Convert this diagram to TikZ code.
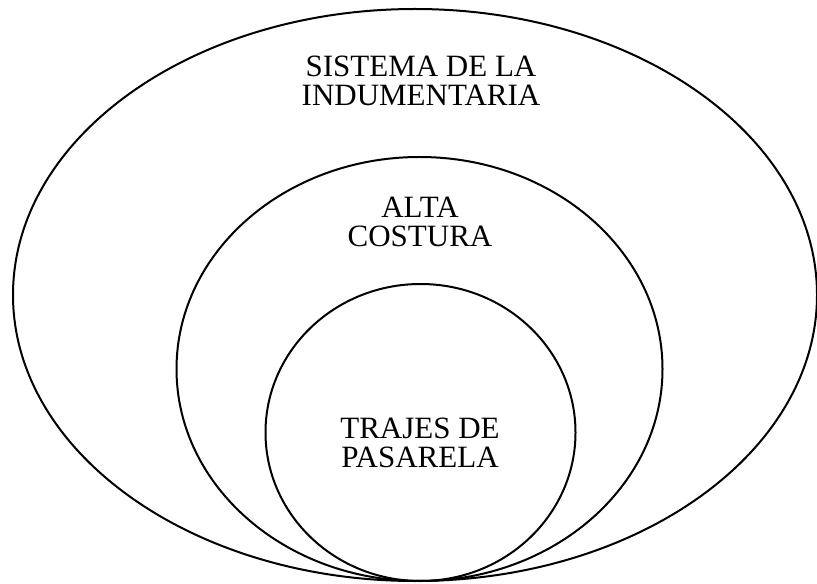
\documentclass[tikz,border=0pt]{standalone}
\usepackage{fontspec}
\setmainfont{Liberation Serif}
\usetikzlibrary{shapes.geometric}
\tikzstyle{set} = [ellipse, draw=black, line width=1.5pt, inner sep=0pt]
\tikzstyle{setlabel} = [align=center, font=\fontsize{23.25}{21.2}\selectfont, inner sep=0pt]

\begin{document}
\begin{tikzpicture}[x=0.75pt, y=-0.75pt]
\useasboundingbox (0,0) rectangle (817,584);

% Sets (all touch at the bottom)
\node (outer) [set, minimum width=804*0.75pt, minimum height=572*0.75pt] at (415,295) {};
\node (middle) [set, minimum width=486*0.75pt, minimum height=424*0.75pt] at (419.5,369) {};
\node (inner) [set, minimum width=310*0.75pt, minimum height=297*0.75pt] at (420.5,432.5) {};

% Labels
\node (Lout) [setlabel] at (421,81) {SISTEMA DE LA\\INDUMENTARIA};
\node (Lmid) [setlabel] at (420,222) {ALTA\\COSTURA};
\node (Lin) [setlabel] at (420,443) {TRAJES DE\\PASARELA};

\end{tikzpicture}
\end{document}
